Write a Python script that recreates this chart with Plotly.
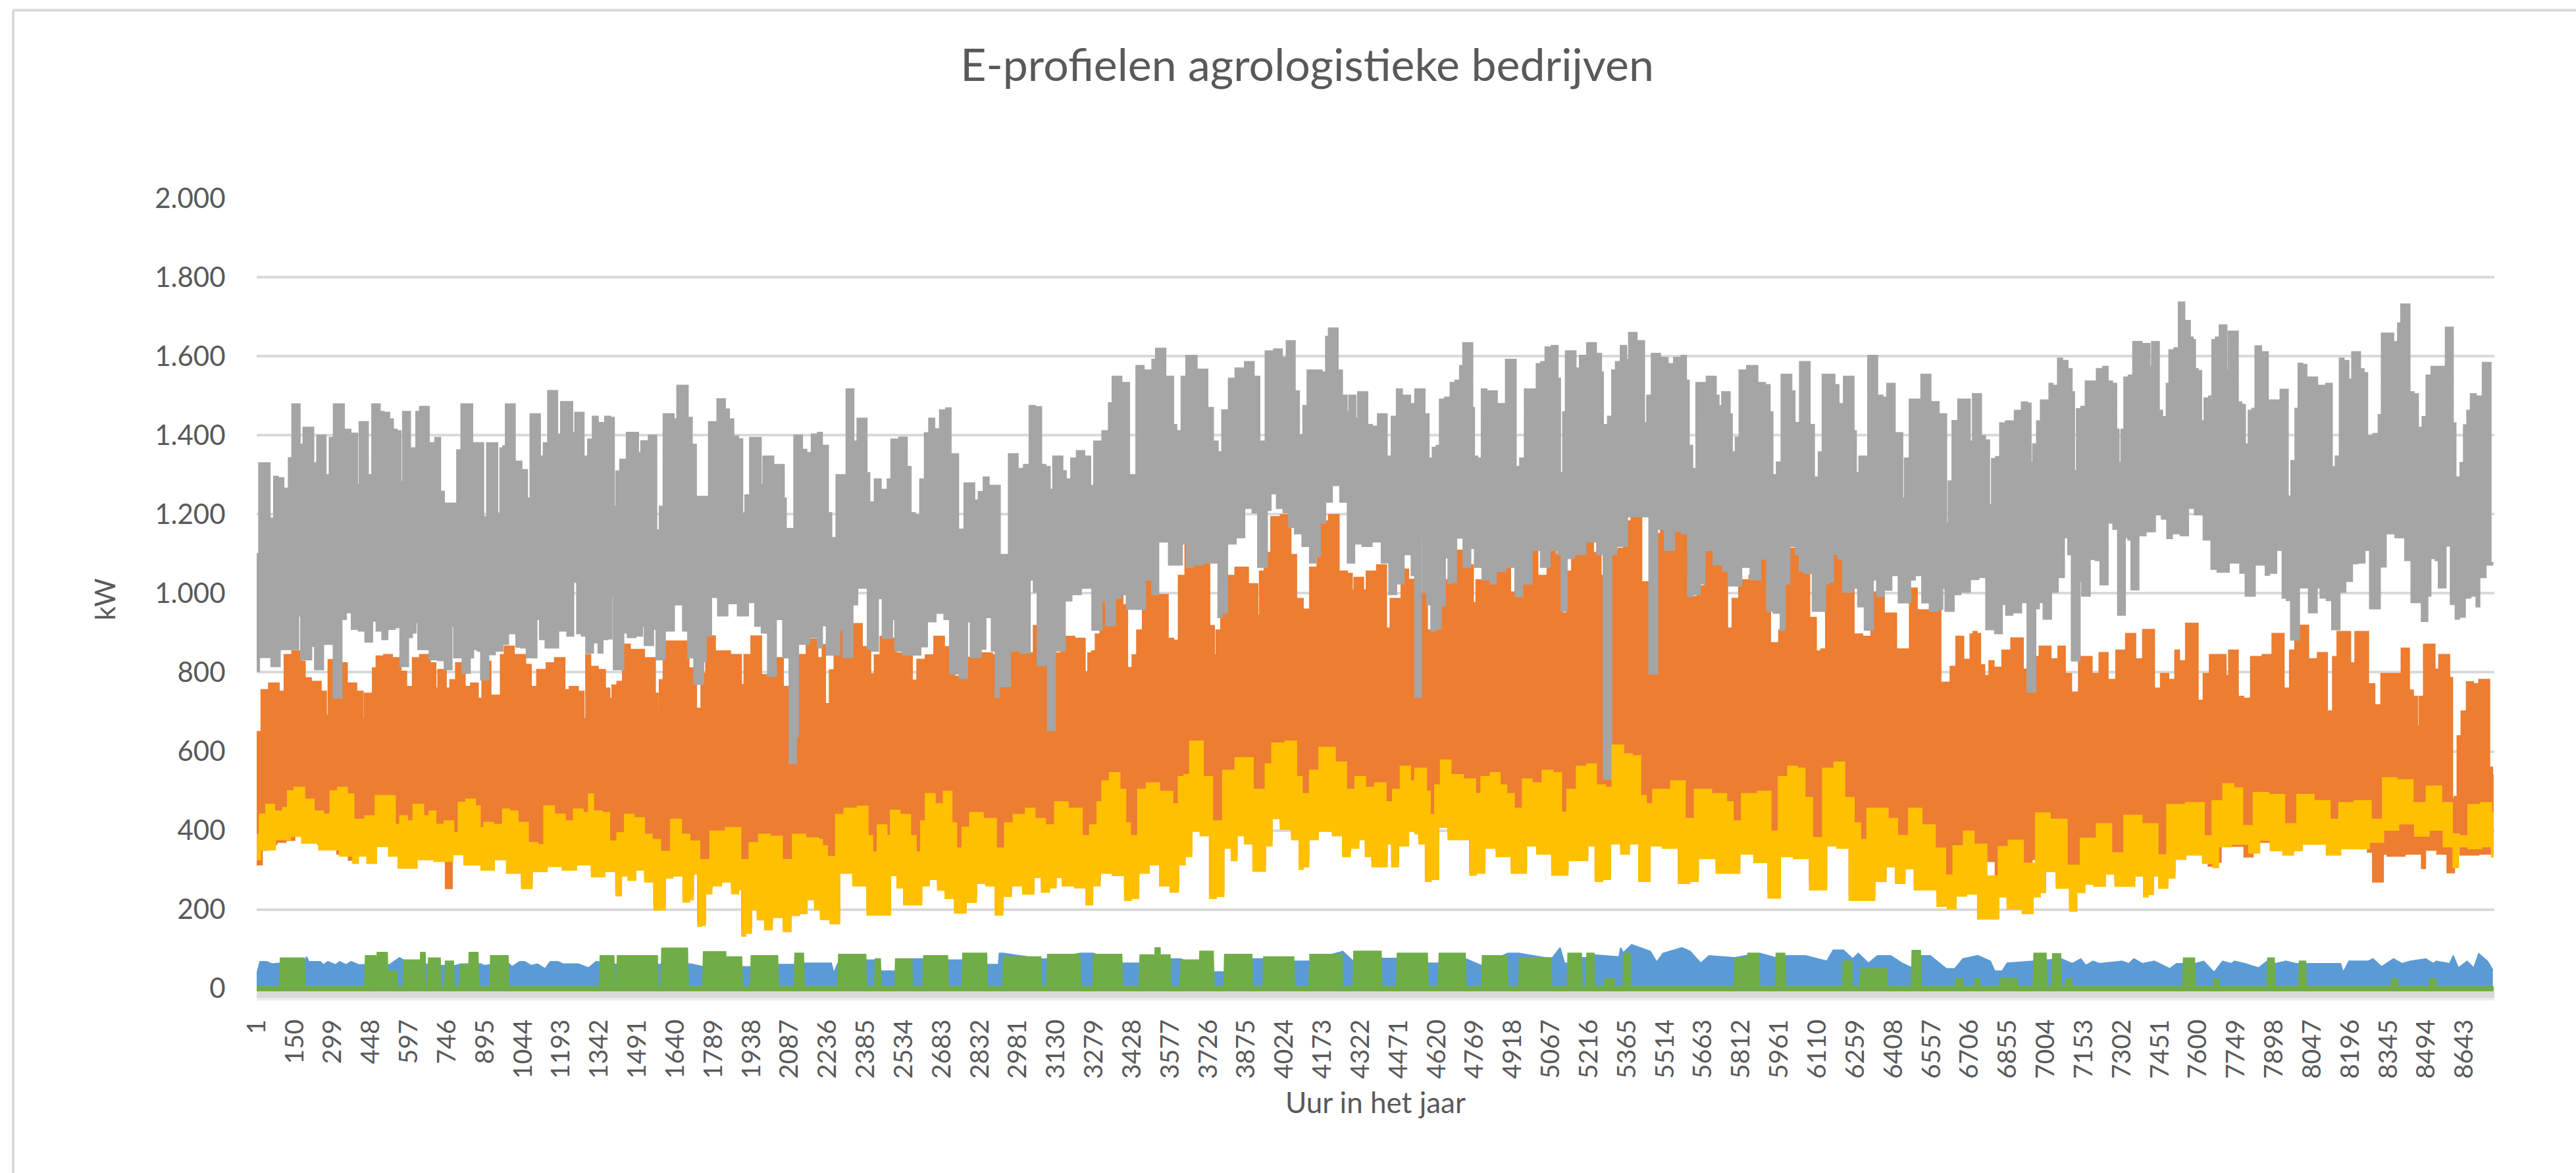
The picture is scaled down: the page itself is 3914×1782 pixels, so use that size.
import plotly.graph_objects as go

TITLE = "E-profielen agrologistieke bedrijven"
X_TITLE = "Uur in het jaar"
Y_TITLE = "kW"
X_TICKS = [1 + 149 * k for k in range(59)]
Y_TICKS = [0, 200, 400, 600, 800, 1000, 1200, 1400, 1600, 1800, 2000]
Y_LABELS = ["0", "200", "400", "600", "800", "1.000", "1.200", "1.400", "1.600", "1.800", "2.000"]

# (hour, kW) vertices of the envelopes
GRAY_HI = [(1,1100),(18,1330),(44,1330),(62,1190),(74,1296),(96,1292),(118,1266),(133,1343),(145,1479),(167,1479),(174,1377),(192,1420),(219,1420),(229,1330),(244,1400),(266,1400),(278,1300),(293,1394),(310,1479),(340,1479),(347,1415),(392,1405),(399,1275),(406,1434),(429,1434),(446,1300),(458,1479),(480,1479),(488,1460),(510,1458),(532,1441),(539,1415),(562,1411),(569,1283),(576,1460),(599,1460),(606,1368),(621,1368),(628,1460),(650,1473),(672,1473),(680,1381),(717,1394),(724,1258),(746,1228),(780,1228),(789,1363),(813,1479),(842,1479),(850,1381),(884,1381),(894,1194),(909,1381),(939,1381),(949,1203),(958,1368),(972,1373),(978,1479),(1005,1479),(1020,1334),(1057,1313),(1064,1241),(1079,1454),(1106,1454),(1116,1347),(1131,1381),(1150,1513),(1175,1513),(1182,1403),(1200,1485),(1234,1485),(1241,1407),(1252,1458),(1278,1458),(1286,1347),(1308,1390),(1323,1448),(1352,1432),(1375,1448),(1397,1445),(1404,1220),(1411,1309),(1434,1339),(1463,1407),(1490,1407),(1500,1356),(1510,1386),(1559,1400),(1574,1160),(1581,1220),(1604,1454),(1629,1454),(1640,1441),(1652,1526),(1682,1526),(1697,1445),(1714,1377),(1729,1245),(1766,1245),(1774,1434),(1800,1434),(1806,1492),(1830,1492),(1840,1466),(1862,1441),(1874,1398),(1899,1391),(1907,1203),(1918,1249),(1944,1394),(1973,1394),(1978,1275),(1988,1347),(2017,1347),(2032,1326),(2062,1326),(2069,1241),(2078,1164),(2102,1164),(2106,1400),(2131,1400),(2143,1364),(2165,1356),(2180,1403),(2214,1407),
(2216,1374),(2234,1374),(2243,1204),(2260,1141),(2278,1300),(2305,1300),(2312,1517),(2334,1517),(2342,1385),(2361,1443),(2386,1443),(2393,1305),(2408,1231),(2430,1289),(2460,1263),(2479,1289),(2489,1390),(2541,1395),(2553,1321),(2571,1204),(2586,1199),(2608,1289),(2622,1406),(2642,1443),(2667,1416),(2682,1464),(2716,1469),(2721,1353),(2741,1353),(2755,1162),(2785,1279),(2807,1279),(2815,1236),(2837,1257),(2854,1294),(2881,1273),(2908,1273),(2914,1098),(2940,1098),(2948,1353),(2977,1353),(2985,1316),(3021,1326),(3029,1475),(3070,1472),(3076,1326),(3103,1321),(3110,1263),(3125,1347),(3150,1347),(3162,1310),(3177,1289),(3199,1342),(3221,1361),(3262,1347),(3268,1273),(3288,1385),(3332,1411),(3339,1482),(3361,1549),(3413,1533),(3421,1300),(3440,1300),(3446,1576),(3502,1565),(3509,1592),(3531,1620),(3554,1620),(3564,1549),(3588,1549),(3591,1427),(3613,1411),(3627,1549),(3650,1602),(3676,1602),(3687,1567),(3716,1567),(3731,1470),(3760,1385),(3768,1358),(3790,1464),(3820,1544),(3842,1570),(3894,1586),(3916,1549),(3938,1385),(3960,1613),(4004,1618),(4026,1597),(4037,1639),(4060,1639),(4071,1512),(4093,1401),(4100,1475),(4126,1565),(4160,1565),(4182,1560),(4189,1650),(4204,1671),(4229,1671),(4238,1565),(4263,1501),(4275,1459),(4278,1501),(4300,1501),(4307,1443),(4315,1510),(4344,1510),(4355,1427),(4381,1423),(4396,1454),(4421,1454),(4430,1347),(4455,1448),(4470,1517),(4500,1501),(4534,1480),
(4535,1517),(4565,1517),(4582,1454),(4597,1342),(4609,1369),(4627,1374),(4635,1491),(4668,1496),(4678,1533),(4705,1539),(4715,1576),(4730,1634),(4757,1634),(4764,1470),(4771,1347),(4789,1342),(4801,1517),(4831,1512),(4882,1480),(4897,1592),(4927,1592),(4934,1321),(4956,1342),(4971,1517),(5005,1517),(5015,1581),(5040,1586),(5049,1623),(5089,1627),(5100,1544),(5108,1305),(5119,1459),(5129,1613),(5156,1613),(5173,1570),(5185,1602),(5230,1634),(5259,1607),(5270,1560),(5274,1427),(5304,1448),(5307,1565),(5333,1586),(5345,1627),(5360,1627),(5366,1592),(5377,1660),(5400,1660),(5407,1639),(5429,1639),(5437,1432),(5448,1501),(5473,1607),(5518,1597),(5533,1581),(5562,1597),(5592,1602),(5602,1539),(5614,1374),(5629,1316),(5641,1533),(5710,1549),(5717,1501),(5732,1475),(5740,1510),(5762,1510),(5774,1454),(5779,1358),(5799,1395),(5809,1565),(5858,1576),(5895,1533),(5917,1528),(5932,1459),(5939,1300),(5961,1332),(5976,1554),(6006,1554),(6013,1512),(6031,1432),(6050,1586),(6075,1586),(6087,1427),(6109,1294),(6119,1358),(6139,1554),(6173,1554),(6183,1528),(6205,1480),(6220,1549),(6249,1549),(6257,1411),(6267,1305),(6279,1347),(6306,1347),(6309,1602),(6338,1602),(6353,1501),(6379,1496),(6385,1531),(6409,1531),(6419,1406),(6442,1406),(6445,1241),(6457,1342),(6483,1491),(6508,1491),(6523,1554),(6548,1554),(6560,1485),(6612,1454),(6619,1178),(6626,1284),(6649,1437),(6671,1491),(6705,1491),(6711,1385),
(6724,1505),(6749,1505),(6755,1399),(6780,1388),(6787,1224),(6797,1341),(6819,1346),(6829,1431),(6864,1436),(6899,1463),(6919,1484),(6945,1481),(6947,1331),(6959,1378),(6978,1436),(6989,1489),(7014,1489),(7020,1531),(7042,1526),(7059,1595),(7080,1589),(7101,1568),(7112,1510),(7120,1310),(7129,1467),(7154,1473),(7164,1537),(7192,1537),(7213,1568),(7241,1574),(7254,1537),(7275,1531),(7287,1415),(7294,1331),(7303,1415),(7317,1547),(7338,1552),(7352,1637),(7408,1632),(7415,1574),(7422,1637),(7446,1637),(7450,1463),(7471,1447),(7481,1531),(7492,1616),(7520,1621),(7527,1737),(7545,1737),(7550,1690),(7566,1690),(7573,1648),(7587,1642),(7592,1568),(7610,1563),(7617,1436),(7631,1494),(7652,1499),(7657,1642),(7680,1648),(7687,1679),(7710,1679),(7715,1563),(7722,1663),(7750,1663),(7764,1484),(7778,1478),(7792,1378),(7802,1463),(7820,1468),(7827,1626),(7869,1611),(7880,1489),(7918,1489),(7925,1516),(7950,1516),(7955,1246),(7973,1336),(7987,1468),(7997,1582),(8022,1579),(8029,1547),(8057,1547),(8078,1526),(8123,1531),(8127,1320),(8148,1347),(8159,1595),(8183,1589),(8197,1542),(8207,1611),(8232,1611),(8239,1568),(8260,1558),(8267,1399),(8302,1404),(8309,1452),(8327,1658),(8360,1658),(8371,1637),(8392,1684),(8396,1732),(8424,1732),(8434,1510),(8455,1505),(8469,1420),(8486,1447),(8500,1552),(8525,1574),(8567,1574),(8570,1673),(8595,1673),(8602,1431),(8616,1294),(8636,1331),(8643,1426),(8662,1463),(8671,1505),(8706,1499),(8720,1584),(8745,1584),(8748,1077),(8757,1077)]

GRAY_LO = [(1,803),(22,838),(52,838),(62,815),(89,815),(96,858),(160,858),(170,943),(177,832),(210,832),(222,866),(234,807),(259,807),(266,871),(299,871),(303,735),(333,735),(336,934),(367,951),(377,909),(421,905),(429,877),(451,877),(458,930),(480,905),(503,883),(525,909),(559,913),(565,815),(591,815),(599,888),(621,900),(628,926),(636,858),(665,858),(687,832),(732,830),(739,807),(761,807),(769,917),(776,837),(798,837),(813,798),(831,798),(842,837),(857,858),(872,854),(884,781),(902,781),(916,845),(953,854),(975,871),(998,898),(1012,898),(1020,864),(1049,862),(1064,837),(1094,837),(1101,934),(1116,883),(1145,862),(1168,862),(1197,905),(1234,892),(1249,1028),(1259,898),(1286,892),(1293,849),(1315,849),(1323,875),(1352,849),(1360,883),(1389,885),(1394,994),(1401,807),(1434,807),(1441,900),(1463,888),(1507,892),(1515,917),(1522,868),(1549,868),(1559,909),(1570,832),(1596,832),(1604,905),(1633,905),(1638,971),(1667,971),(1670,905),(1707,837),(1718,770),(1744,770),(1756,828),(1766,892),(1796,990),(1815,943),(1840,943),(1850,974),(1877,974),(1889,943),(1907,943),(1944,977),(1958,917),(1995,900),(2007,790),(2032,790),(2037,934),(2084,837),(2087,569),(2110,569),(2118,637),(2125,871),(2150,871),(2180,888),(2214,862),
(2216,918),(2246,844),(2278,844),(2287,907),(2305,838),(2327,838),(2342,971),(2364,1013),(2390,1013),(2393,859),(2423,854),(2445,987),(2455,886),(2485,886),(2494,934),(2504,854),(2553,844),(2586,844),(2615,865),(2637,928),(2682,950),(2701,934),(2726,796),(2778,785),(2789,928),(2800,838),(2829,838),(2844,859),(2866,939),(2888,854),(2896,737),(2918,764),(2948,764),(2955,854),(3021,849),(3036,1034),(3047,1003),(3066,817),(3095,817),(3098,653),(3122,653),(3132,854),(3162,854),(3169,981),(3214,997),(3243,1013),(3268,1013),(3273,907),(3302,907),(3317,981),(3332,918),(3354,918),(3369,987),(3398,997),(3413,960),(3472,960),(3487,1034),(3524,997),(3539,1130),(3568,1130),(3573,1072),(3613,1072),(3635,1125),(3647,1066),(3687,1072),(3724,1077),(3760,1077),(3768,939),(3790,950),(3812,1125),(3857,1141),(3879,1215),(3916,1204),(3923,1066),(3953,1066),(3960,1210),(3982,1252),(4004,1215),(4034,1204),(4049,1167),(4078,1151),(4108,1119),(4137,1077),(4155,1093),(4174,1178),(4196,1231),(4226,1273),(4256,1231),(4285,1077),(4312,1125),(4344,1119),(4389,1130),(4418,1077),(4448,997),(4477,1024),(4507,1098),(4534,1045),
(4535,737),(4557,737),(4562,1140),(4568,1002),(4594,971),(4601,904),(4627,910),(4646,968),(4661,1090),(4668,1026),(4695,1028),(4700,1140),(4720,1140),(4727,1066),(4749,1066),(4757,1114),(4779,1066),(4816,1034),(4845,1024),(4860,1055),(4919,1066),(4934,992),(4978,1024),(5008,1109),(5045,1066),(5082,1109),(5104,1098),(5111,955),(5126,955),(5134,1088),(5185,1098),(5222,1130),(5271,1098),(5273,530),(5304,530),(5307,1098),(5341,1119),(5392,1194),(5444,1194),(5448,1210),(5454,796),(5481,796),(5488,1162),(5511,1162),(5513,1109),(5547,1109),(5555,1157),(5599,1151),(5606,992),(5636,997),(5666,1024),(5673,1109),(5732,1072),(5747,1056),(5776,1019),(5806,1019),(5821,1066),(5873,1034),(5902,1087),(5921,955),(5954,950),(5976,907),(5991,1024),(6013,1119),(6035,1098),(6043,1056),(6072,1050),(6109,955),(6139,955),(6143,1024),(6168,1029),(6176,1098),(6205,1087),(6213,1003),(6242,1003),(6257,1013),(6279,966),(6309,907),(6326,907),(6331,1034),(6353,992),(6390,1008),(6412,1045),(6442,976),(6471,976),(6478,1034),(6508,1045),(6530,976),(6567,955),(6597,960),(6604,1013),(6616,955),(6641,955),(6649,997),(6693,1003),
(6724,1035),(6759,1040),(6780,908),(6829,898),(6838,972),(6857,945),(6892,951),(6926,977),(6936,750),(6961,750),(6968,961),(6989,977),(6999,935),(7021,935),(7031,1003),(7073,1040),(7080,1141),(7101,1098),(7108,829),(7136,829),(7140,1030),(7150,993),(7173,993),(7182,1086),(7213,1083),(7220,1022),(7243,1022),(7252,1178),(7282,1162),(7289,945),(7313,945),(7317,1141),(7335,1135),(7341,1009),(7366,1009),(7370,1146),(7422,1156),(7443,1199),(7471,1188),(7485,1139),(7513,1151),(7548,1146),(7576,1215),(7596,1199),(7645,1135),(7657,1061),(7694,1054),(7750,1077),(7778,1051),(7792,993),(7820,993),(7827,1072),(7858,1072),(7869,1046),(7890,1051),(7925,1109),(7934,988),(7959,982),(7966,882),(7992,882),(8001,1014),(8029,1014),(8036,951),(8061,951),(8071,1014),(8085,988),(8120,982),(8127,908),(8151,908),(8159,1003),(8197,1030),(8211,1075),(8239,1077),(8267,1109),(8277,961),(8304,961),(8322,1067),(8350,1151),(8392,1141),(8427,1083),(8441,977),(8469,977),(8480,929),(8494,929),(8504,993),(8518,1088),(8539,1083),(8543,1014),(8567,1014),(8574,1120),(8602,972),(8612,935),(8634,940),(8657,988),(8678,993),(8699,966),(8706,1040),(8748,1072),(8757,1077)]

ORANGE_HI = [(1,650),(15,650),(22,756),(74,773),(103,752),(115,845),(163,854),(189,828),(192,786),(237,777),(269,752),(278,692),(284,832),(340,824),(370,773),(414,752),(421,683),(426,747),(451,747),(458,811),(480,841),(517,845),(547,837),(584,803),(591,764),(609,764),(613,837),(665,845),(695,824),(709,760),(712,807),(739,807),(746,760),(769,781),(791,824),(813,798),(820,764),(857,773),(879,734),(887,803),(916,828),(919,742),(953,742),(958,845),(983,866),(1035,845),(1072,820),(1079,764),(1116,807),(1153,824),(1182,837),(1205,837),(1209,756),(1241,764),(1278,752),(1286,683),(1293,845),(1323,815),(1352,807),(1379,760),(1387,734),(1397,768),(1426,777),(1441,871),(1485,858),(1552,837),(1570,747),(1574,705),(1581,781),(1604,879),(1678,879),(1707,811),(1737,709),(1744,798),(1774,892),(1818,854),(1892,845),(1904,769),(1914,845),(1958,892),(1995,794),(2040,837),(2084,764),(2113,637),(2125,845),(2180,884),(2214,837),
(2216,870),(2238,721),(2248,806),(2275,918),(2349,923),(2393,865),(2415,796),(2423,844),(2460,891),(2497,886),(2512,849),(2563,844),(2571,780),(2600,833),(2637,844),(2667,891),(2718,865),(2748,790),(2785,838),(2866,849),(2896,844),(2948,854),(3036,849),(3047,918),(3088,822),(3132,849),(3169,891),(3236,886),(3251,801),(3258,849),(3280,854),(3288,897),(3317,981),(3384,997),(3398,971),(3421,812),(3435,844),(3457,907),(3480,1034),(3554,997),(3583,886),(3598,881),(3620,1045),(3650,1167),(3657,1077),(3716,1077),(3746,918),(3753,844),(3760,907),(3790,987),(3812,1045),(3849,1066),(3916,1024),(3923,944),(3930,1056),(3960,1103),(3982,1194),(4034,1199),(4064,1098),(4078,987),(4116,960),(4130,1066),(4174,1183),(4219,1199),(4256,1056),(4285,1050),(4293,1008),(4300,1040),(4330,1040),(4337,1008),(4352,1056),(4418,1072),(4428,912),(4448,987),(4477,987),(4485,1061),(4534,1035),
(4535,1066),(4557,912),(4565,1002),(4601,907),(4668,1034),(4705,1109),(4757,1072),(4769,976),(4779,1034),(4853,1093),(4890,1072),(4927,1003),(4964,1029),(4993,1119),(5038,1045),(5067,1109),(5104,1098),(5123,950),(5134,1056),(5163,1114),(5207,1135),(5259,1103),(5267,1045),(5311,1109),(5348,1114),(5355,1183),(5407,1194),(5437,1029),(5481,1151),(5511,1162),(5547,1172),(5599,1151),(5614,992),(5666,1019),(5673,1109),(5747,1072),(5769,912),(5784,987),(5821,1034),(5865,1045),(5910,1087),(5942,875),(5976,907),(5998,1024),(6013,1114),(6057,1056),(6102,939),(6109,854),(6139,859),(6146,1024),(6168,1098),(6242,1082),(6264,897),(6309,891),(6331,1003),(6412,950),(6427,859),(6464,859),(6478,1013),(6523,958),(6582,995),(6604,775),(6619,775),(6641,815),(6664,891),(6701,833),(6715,897),
(6724,903),(6745,898),(6752,819),(6777,792),(6787,829),(6815,813),(6850,856),(6885,887),(6912,887),(6919,808),(6933,750),(6961,750),(6968,840),(6989,866),(7010,866),(7038,834),(7066,866),(7094,797),(7115,750),(7150,840),(7178,840),(7192,797),(7234,850),(7261,782),(7296,856),(7338,898),(7373,834),(7394,908),(7415,908),(7443,760),(7464,797),(7506,782),(7513,856),(7541,829),(7562,924),(7590,924),(7610,729),(7631,797),(7659,845),(7701,845),(7718,792),(7722,856),(7750,856),(7764,739),(7792,734),(7820,840),(7883,845),(7897,898),(7920,898),(7953,760),(7964,856),(7994,919),(8022,919),(8043,834),(8092,850),(8120,702),(8134,840),(8155,903),(8190,903),(8204,824),(8225,903),(8253,903),(8281,771),(8302,718),(8330,797),(8392,797),(8399,861),(8424,861),(8430,755),(8455,739),(8462,665),(8469,739),(8497,871),(8522,871),(8532,808),(8553,845),(8574,845),(8595,787),(8597,481),(8609,486),(8620,639),(8640,702),(8662,776),(8693,771),(8706,782),(8734,782),(8748,560),(8757,540)]

# Where the lower orange edge shows below the yellow band
ORANGE_LO = [(1,313),(20,313),(25,350),(60,365),(100,370),(130,375),(170,395),(210,385),(270,365),(290,375),(340,340),(380,325),(400,345),(500,360),(560,360),(735,340),(745,253),(762,253),(770,345),(1000,340),(6780,322),(6795,322),(6960,327),(6975,327),(7129,306),(7145,306),(7620,345),(7660,310),(7680,320),(7700,400),(7760,360),(7800,333),(7830,370),(8260,370),(8267,345),(8300,270),(8320,270),(8330,340),(8350,335),(8470,340),(8480,304),(8500,350),(8570,340),(8580,293),(8597,293),(8610,390),(8640,338),(8757,340)]

YELLOW_HI = [(1,390),(22,441),(52,466),(89,449),(118,458),(126,500),(170,509),(207,479),(244,449),(281,441),(296,500),(340,509),(370,492),(392,428),(458,437),(473,488),(539,488),(547,415),(576,437),(606,424),(621,466),(650,466),(658,437),(695,449),(709,415),(761,424),(783,394),(798,471),(842,479),(872,462),(879,407),(902,420),(953,415),(975,454),(1005,449),(1042,420),(1086,369),(1116,364),(1135,462),(1197,441),(1219,424),(1264,454),(1293,445),(1308,492),(1330,449),(1375,445),(1389,373),(1434,394),(1448,441),(1507,432),(1530,390),(1567,377),(1596,347),(1648,428),(1678,390),(1714,373),(1755,326),(1796,398),(1877,407),(1914,326),(1944,369),(1988,390),(2032,385),(2084,326),(2113,390),(2187,381),(2214,377),
(2216,361),(2253,334),(2282,440),(2319,456),(2386,461),(2401,387),(2423,345),(2438,414),(2460,414),(2475,387),(2489,451),(2549,440),(2571,387),(2593,345),(2608,424),(2630,493),(2682,467),(2696,499),(2718,499),(2726,419),(2755,355),(2770,408),(2815,445),(2874,430),(2918,355),(2940,419),(2985,440),(3036,456),(3058,430),(3118,414),(3132,472),(3221,456),(3243,387),(3280,414),(3302,472),(3317,525),(3361,546),(3398,504),(3406,419),(3435,387),(3465,504),(3502,520),(3568,499),(3605,467),(3613,536),(3650,541),(3657,626),(3687,626),(3724,536),(3760,424),(3805,552),(3857,584),(3894,584),(3908,504),(3938,504),(3960,568),(3990,621),(4064,626),(4078,536),(4108,493),(4137,552),(4182,610),(4263,573),(4270,504),(4330,536),(4352,509),(4403,520),(4440,472),(4455,504),(4500,562),(4534,525),
(4535,557),(4572,557),(4587,499),(4601,440),(4624,515),(4646,578),(4668,578),(4683,541),(4764,530),(4779,493),(4808,536),(4853,546),(4882,515),(4905,493),(4941,456),(4971,530),(5015,520),(5052,552),(5097,546),(5119,446),(5141,504),(5193,562),(5222,568),(5267,515),(5296,509),(5318,616),(5340,616),(5363,594),(5407,589),(5429,488),(5451,467),(5481,504),(5518,504),(5555,525),(5577,525),(5607,430),(5651,504),(5740,493),(5769,472),(5791,424),(5836,493),(5917,499),(5939,398),(5976,536),(6013,562),(6050,557),(6072,483),(6109,382),(6153,557),(6198,573),(6235,483),(6272,419),(6286,377),(6323,456),(6368,456),(6405,430),(6442,387),(6493,456),(6545,414),(6597,355),(6626,287),(6656,361),(6708,398),
(6738,365),(6808,285),(6829,359),(6885,375),(6947,317),(6982,444),(7059,428),(7115,312),(7164,380),(7241,417),(7282,343),(7338,438),(7422,417),(7464,338),(7492,465),(7610,470),(7638,386),(7673,475),(7722,518),(7757,507),(7792,412),(7841,496),(7911,491),(7966,417),(8008,491),(8099,475),(8134,428),(8169,470),(8253,475),(8302,428),(8343,533),(8413,528),(8469,470),(8518,512),(8588,470),(8602,391),(8643,386),(8671,465),(8741,470),(8757,444)]

YELLOW_LO = [(1,326),(30,351),(118,377),(148,385),(207,368),(281,351),(370,335),(384,317),(414,335),(451,317),(488,360),(547,335),(562,305),(621,305),(636,326),(754,322),(783,339),(842,313),(916,300),(946,326),(1012,292),(1064,253),(1094,296),(1182,309),(1212,300),(1293,313),(1330,283),(1397,296),(1417,235),(1440,285),(1469,274),(1500,300),(1540,270),(1572,199),(1590,200),(1610,280),(1650,285),(1690,219),(1700,225),(1720,290),(1735,158),(1750,160),(1765,240),(1800,260),(1840,270),(1880,240),(1895,250),(1905,133),(1925,140),(1950,200),(1971,174),(2008,149),(2030,180),(2050,180),(2075,144),(2110,185),(2140,190),(2170,225),(2200,200),
(2216,175),(2275,164),(2290,292),(2379,260),(2401,186),(2475,186),(2489,286),(2526,255),(2541,212),(2600,212),(2608,260),(2659,276),(2674,249),(2718,228),(2748,191),(2807,218),(2829,266),(2881,260),(2903,186),(2940,233),(2970,260),(3029,239),(3058,281),(3088,244),(3120,255),(3140,281),(3169,260),(3236,255),(3258,212),(3288,260),(3317,292),(3384,286),(3413,223),(3435,228),(3472,292),(3517,313),(3554,260),(3598,244),(3620,313),(3650,334),(3672,398),(3716,387),(3746,228),(3768,233),(3805,355),(3827,324),(3849,387),(3886,366),(3916,297),(3938,297),(3960,361),(3990,430),(4026,403),(4078,377),(4086,302),(4108,308),(4130,377),(4182,398),(4241,387),(4263,334),(4300,355),(4330,377),(4352,334),(4381,308),(4418,308),(4433,366),(4455,308),(4485,361),(4534,398),
(4535,392),(4565,366),(4587,271),(4609,276),(4646,408),(4683,377),(4735,377),(4764,287),(4786,292),(4831,355),(4875,334),(4949,292),(4993,361),(5030,340),(5111,287),(5156,324),(5200,324),(5222,361),(5259,271),(5281,276),(5318,366),(5363,340),(5385,366),(5437,271),(5473,361),(5533,355),(5599,266),(5621,271),(5666,329),(5762,292),(5791,292),(5821,340),(5902,319),(5932,229),(5954,229),(5976,334),(6057,329),(6102,250),(6124,250),(6168,361),(6205,355),(6264,223),(6309,223),(6360,271),(6397,308),(6434,266),(6471,303),(6508,250),(6560,250),(6597,208),(6641,202),(6664,234),(6723,239),(6752,176),(6818,176),(6822,232),(6884,201),(6940,190),(6968,232),(6996,243),(7010,296),(7080,254),(7115,196),(7136,243),(7178,264),(7206,259),(7268,290),(7282,259),(7324,259),(7380,285),(7394,232),(7415,238),(7436,285),(7457,254),(7506,280),(7513,327),(7590,338),(7645,317),(7673,306),(7687,359),(7771,365),(7827,343),(7855,375),(7911,349),(7953,338),(7994,349),(8022,365),(8078,365),(8127,338),(8190,354),(8246,354),(8295,370),(8357,401),(8413,417),(8483,386),(8525,401),(8595,359),(8602,306),(8636,359),(8678,354),(8741,359),(8757,333)]

BLUE = [(1,35),(14,68),(40,68),(60,62),(190,70),(196,80),(205,68),(250,68),(262,60),(280,68),(310,60),(326,68),(350,60),(370,68),(400,60),(520,60),(560,78),(580,70),(660,62),(735,58),(780,58),(800,62),(880,62),(890,58),(914,60),(990,62),(1000,55),(1030,68),(1050,68),(1075,58),(1100,62),(1130,50),(1150,68),(1180,68),(1200,62),(1260,62),(1300,52),(1330,68),(1420,60),(1700,62),(1750,55),(1903,55),(1936,55),(2043,61),(2105,61),(2144,64),(2250,64),(2260,39),(2276,64),(2388,72),(2420,72),(2445,44),(2499,44),(2568,75),(2609,75),(2708,72),(2762,72),(2861,61),(2905,61),(2908,89),(2922,89),(3073,75),(3094,75),(3226,89),(3275,89),(3390,64),(3456,64),(3579,75),(3617,75),(3748,42),(3787,42),(3899,75),(3940,75),(4063,69),(4121,69),(4252,94),(4293,69),(4405,76),(4463,76),(4586,64),(4627,64),(4734,75),(4796,58),(4898,89),(4941,89),(5070,75),(5103,103),(5120,64),(5131,64),(5189,78),(5205,78),(5238,85),(5334,80),(5340,103),(5350,90),(5383,111),(5456,94),(5481,67),(5506,89),(5580,103),(5612,94),(5654,64),(5686,83),(5785,78),(5884,89),(5946,78),(5985,83),(6064,83),(6147,69),(6172,97),(6212,97),(6248,75),(6270,89),(6310,64),(6345,83),(6397,83),(6442,64),(6478,53),(6516,83),(6552,83),(6615,50),(6648,50),(6680,75),(6738,83),(6787,69),(6804,44),(6833,44),(6853,64),(6935,69),(6955,69),(7065,75),(7088,69),(7108,63),(7141,75),(7161,58),(7188,69),(7215,63),(7302,69),(7329,63),(7349,75),(7382,63),(7429,69),(7489,50),(7516,63),(7589,63),(7622,69),(7663,41),(7696,69),(7730,63),(7743,69),(7783,63),(7837,52),(7870,69),(7903,63),(7944,69),(7984,63),(8024,63),(8158,63),(8168,41),(8191,69),(8265,69),(8285,75),(8318,55),(8365,75),(8398,63),(8432,69),(8492,75),(8520,63),(8532,69),(8585,63),(8599,83),(8619,52),(8653,69),(8679,52),(8699,88),(8733,69),(8754,46)]

# (first hour, last hour, kW) of the green plateaus
GREEN = [(91,190,77),(424,470,83),(470,515,91),(515,552,44),(575,640,72),(640,663,91),(671,722,77),(737,774,69),(796,830,60),(830,870,91),(914,988,83),(1343,1402,83),(1410,1572,83),(1584,1690,102),(1747,1840,93),(1840,1902,80),(1934,2043,83),(2105,2144,89),(2276,2388,86),(2420,2445,75),(2499,2568,75),(2609,2708,83),(2762,2861,89),(2922,3073,80),(3094,3226,86),(3275,3390,86),(3456,3515,85),(3515,3540,103),(3540,3579,85),(3617,3690,72),(3690,3748,94),(3787,3899,86),(3940,4063,80),(4121,4252,86),(4293,4405,94),(4463,4586,89),(4627,4734,89),(4796,4898,83),(4941,5070,78),(5131,5189,89),(5205,5238,89),(5276,5317,25),(5350,5379,89),(5785,5835,78),(5835,5884,89),(5946,5985,89),(6209,6248,69),(6278,6385,50),(6478,6516,96),(6648,6681,25),(6725,6746,25),(6823,6894,25),(6955,7008,89),(7028,7065,88),(7081,7108,25),(7540,7589,77),(7660,7683,25),(7870,7901,77),(7994,8024,69),(8355,8382,25),(8505,8532,25)]
GREEN_BASE = 5
GREEN_FLOOR = -7
LAST_HOUR = 8757

GRAY, ORANGE, YELLOW, C_BLUE, C_GREEN = "#A5A5A5", "#ED7D31", "#FFC000", "#5B9BD5", "#70AD47"
TEXT = "#595959"
GRID = "#D9D9D9"


def band(lo, hi, color, name):
    xs_lo, ys_lo = zip(*lo)
    xs_hi, ys_hi = zip(*hi)
    return [
        go.Scatter(x=xs_lo, y=ys_lo, mode="lines", line=dict(color=color, width=2, shape="hvh"), showlegend=False, hoverinfo="skip", name=name + " min"),
        go.Scatter(x=xs_hi, y=ys_hi, mode="lines", line=dict(color=color, width=2, shape="hvh"), fill="tonexty", fillcolor=color, showlegend=False, name=name),
    ]


# Between hours 1000 and 7500 the lower orange edge lies hidden under the yellow band.
orange_lo = sorted(ORANGE_LO + [(h, v + 15) for h, v in YELLOW_LO if 1000 < h < 7600])

green_x, green_y = [1], [GREEN_BASE]
for a, b, top in GREEN:
    green_x += [a, a + 3, b - 3, b]
    green_y += [GREEN_BASE, top, top, GREEN_BASE]
green_x.append(LAST_HOUR)
green_y.append(GREEN_BASE)

fig = go.Figure()
blue_x, blue_y = zip(*BLUE)
fig.add_trace(go.Scatter(x=blue_x, y=blue_y, mode="lines", line=dict(color=C_BLUE, width=2), fill="tozeroy", fillcolor=C_BLUE, showlegend=False, name="Bedrijf 1"))
for t in band(orange_lo, ORANGE_HI, ORANGE, "Bedrijf 2"):
    fig.add_trace(t)
for t in band(GRAY_LO, GRAY_HI, GRAY, "Bedrijf 3"):
    fig.add_trace(t)
for t in band(YELLOW_LO, YELLOW_HI, YELLOW, "Bedrijf 4"):
    fig.add_trace(t)
fig.add_trace(go.Scatter(x=[1, LAST_HOUR], y=[GREEN_FLOOR, GREEN_FLOOR], mode="lines", line=dict(color=C_GREEN, width=1), showlegend=False, hoverinfo="skip"))
fig.add_trace(go.Scatter(x=green_x, y=green_y, mode="lines", line=dict(color=C_GREEN, width=2), fill="tonexty", fillcolor=C_GREEN, showlegend=False, name="Bedrijf 5"))

W, H = 3914, 1782
L, R, T, B = 390, 3790, 301.4, 1520.0
fig.update_layout(
    width=W, height=H, autosize=False,
    margin=dict(l=L, r=W - R, t=T, b=H - B, pad=0),
    paper_bgcolor="white", plot_bgcolor="white",
    font=dict(family="Lato, Liberation Sans, sans-serif", color=TEXT, size=42),
    title=dict(text=TITLE, x=1986 / W, xanchor="center", xref="container", y=1 - 99 / H, yanchor="middle", font=dict(size=68, color=TEXT)),
    xaxis=dict(
        range=[1, 8760], tickmode="array", tickvals=X_TICKS, ticktext=[str(v) for v in X_TICKS],
        tickangle=-90, showgrid=False, zeroline=False, ticks="outside", ticklen=12, tickcolor="white",
        tickfont=dict(size=39, color=TEXT),
        title=dict(text=X_TITLE, standoff=22, font=dict(size=44, color=TEXT)),
    ),
    yaxis=dict(
        range=[-30.4, 2000], tickmode="array", tickvals=Y_TICKS, ticktext=Y_LABELS,
        showgrid=True, gridcolor=GRID, gridwidth=4, zeroline=False,
        ticks="outside", ticklen=38, tickcolor="white",
        tickfont=dict(size=42, color=TEXT),
        title=dict(text=Y_TITLE, standoff=46, font=dict(size=42, color=TEXT)),
    ),
    shapes=[
        dict(type="rect", xref="x", yref="y", x0=1, x1=8770, y0=-7, y1=-24.5, fillcolor="#D9D9D9", line_width=0, layer="above"),
        dict(type="rect", xref="x", yref="y", x0=1, x1=8770, y0=-24.5, y1=-30.4, fillcolor="#EDEDED", line_width=0, layer="above"),
        dict(type="line", xref="paper", yref="paper", x0=(20 - L) / (R - L), x1=(W - L) / (R - L), y0=(B - 16) / (B - T), y1=(B - 16) / (B - T), line=dict(color=GRID, width=4)),
        dict(type="line", xref="paper", yref="paper", x0=(20 - L) / (R - L), x1=(20 - L) / (R - L), y0=(B - 16) / (B - T), y1=(B - H) / (B - T), line=dict(color=GRID, width=4)),
    ],
)
fig.write_html("out.html", config={"displayModeBar": False}, post_script="document.body.style.margin='0';")
